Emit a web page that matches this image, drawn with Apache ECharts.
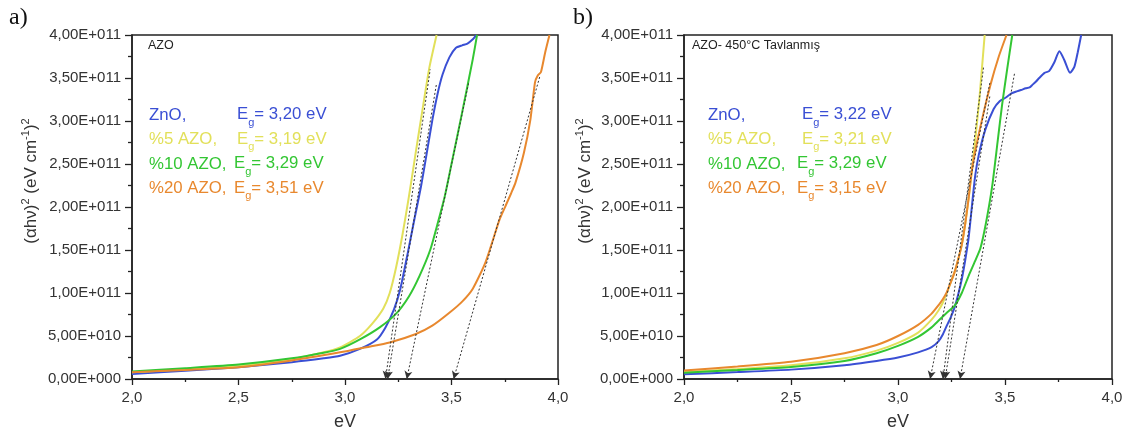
<!DOCTYPE html>
<html>
<head>
<meta charset="utf-8">
<script src="https://cdn.jsdelivr.net/npm/echarts@6/dist/echarts.min.js"></script>
<style>
html,body{margin:0;padding:0;background:#fff;}
#c{width:1130px;height:436px;}
</style>
</head>
<body>
<div id="c"></div>
<script>
// ---------- DATA ----------
const seriesNames = ['ZnO,', '%5 AZO,', '%10 AZO,', '%20 AZO,'];
const colors = ['#3a4fd4', '#e2e05a', '#33c633', '#e8882e'];

// Panel a) AZO  [eV, (alpha h nu)^2]
const aZnO = [[2.0,0.59e10],[2.25,0.95e10],[2.5,1.37e10],[2.75,1.95e10],[2.9,2.4e10],[2.977,2.7e10],[3.07,3.5e10],[3.15,4.6e10],[3.19,6.0e10],[3.23,8.1e10],[3.26,1.05e11],[3.295,1.47e11],[3.326,1.86e11],[3.357,2.24e11],[3.384,2.63e11],[3.41,3.01e11],[3.435,3.32e11],[3.458,3.54e11],[3.49,3.74e11],[3.52,3.85e11],[3.55,3.88e11],[3.575,3.9e11],[3.6,3.95e11],[3.618,4.0e11]];
const aAZO5 = [[2.0,0.78e10],[2.25,1.15e10],[2.5,1.56e10],[2.75,2.3e10],[2.9,3.1e10],[2.977,3.67e10],[3.07,5.0e10],[3.13,6.5e10],[3.18,8.2e10],[3.21,1.0e11],[3.24,1.3e11],[3.27,1.68e11],[3.30,2.12e11],[3.33,2.6e11],[3.365,3.15e11],[3.396,3.62e11],[3.43,4.0e11]];
const aAZO10 = [[2.0,0.86e10],[2.25,1.25e10],[2.5,1.68e10],[2.75,2.4e10],[2.9,3.05e10],[2.977,3.5e10],[3.07,4.6e10],[3.163,6.0e10],[3.24,7.6e10],[3.30,9.6e10],[3.35,1.2e11],[3.40,1.5e11],[3.434,1.8e11],[3.468,2.12e11],[3.50,2.5e11],[3.55,3.1e11],[3.60,3.72e11],[3.62,4.0e11]];
const aAZO20 = [[2.0,0.78e10],[2.25,1.05e10],[2.5,1.37e10],[2.75,2.15e10],[2.977,3.1e10],[3.1,3.7e10],[3.21,4.25e10],[3.33,5.2e10],[3.41,6.2e10],[3.49,7.7e10],[3.55,9.0e10],[3.60,1.05e11],[3.66,1.36e11],[3.725,1.85e11],[3.755,2.02e11],[3.78,2.16e11],[3.80,2.28e11],[3.84,2.63e11],[3.87,3.01e11],[3.892,3.45e11],[3.905,3.53e11],[3.92,3.57e11],[3.94,3.8e11],[3.96,4.0e11]];
const egA = [3.20, 3.19, 3.29, 3.51];
// tangent line top ends [eV, value]
const tanA = [[3.43,3.44e11],[3.40,3.6e11],[3.58,3.44e11],[3.915,3.52e11]];

// Panel b) AZO- 450°C Tavlanmış
const bZnO = [[2.0,0.54e10],[2.25,0.8e10],[2.5,1.09e10],[2.75,1.6e10],[2.9,2.1e10],[3.0,2.5e10],[3.094,3.1e10],[3.157,3.7e10],[3.19,4.4e10],[3.21,5.2e10],[3.228,6.2e10],[3.247,7.2e10],[3.264,8.3e10],[3.281,9.8e10],[3.298,1.16e11],[3.314,1.38e11],[3.33,1.64e11],[3.345,2.0e11],[3.36,2.35e11],[3.377,2.6e11],[3.408,2.9e11],[3.447,3.14e11],[3.475,3.23e11],[3.502,3.27e11],[3.53,3.32e11],[3.55,3.34e11],[3.575,3.36e11],[3.597,3.38e11],[3.615,3.39e11],[3.628,3.42e11],[3.645,3.46e11],[3.66,3.5e11],[3.685,3.56e11],[3.706,3.58e11],[3.73,3.68e11],[3.754,3.81e11],[3.777,3.71e11],[3.804,3.56e11],[3.824,3.63e11],[3.84,3.8e11],[3.856,4.0e11]];
const bAZO5 = [[2.0,0.81e10],[2.25,1.15e10],[2.5,1.59e10],[2.75,2.4e10],[2.9,3.3e10],[3.0,4.2e10],[3.094,5.4e10],[3.157,6.9e10],[3.19,8.0e10],[3.21,8.9e10],[3.228,1.0e11],[3.246,1.12e11],[3.264,1.24e11],[3.28,1.38e11],[3.298,1.56e11],[3.315,1.82e11],[3.33,2.1e11],[3.353,2.6e11],[3.38,3.25e11],[3.405,4.0e11]];
const bAZO10 = [[2.0,0.74e10],[2.25,1.05e10],[2.5,1.4e10],[2.75,2.1e10],[2.9,3.0e10],[3.0,3.85e10],[3.094,4.9e10],[3.157,6.0e10],[3.19,6.8e10],[3.228,7.7e10],[3.264,8.5e10],[3.298,1.0e11],[3.33,1.2e11],[3.36,1.37e11],[3.385,1.52e11],[3.41,1.8e11],[3.44,2.24e11],[3.465,2.75e11],[3.487,3.2e11],[3.51,3.6e11],[3.534,4.0e11]];
const bAZO20 = [[2.0,1.0e10],[2.25,1.45e10],[2.5,2.0e10],[2.75,3.0e10],[2.9,3.95e10],[3.0,5.0e10],[3.094,6.3e10],[3.157,7.6e10],[3.19,8.6e10],[3.21,9.3e10],[3.228,1.01e11],[3.246,1.12e11],[3.264,1.24e11],[3.28,1.38e11],[3.298,1.56e11],[3.315,1.82e11],[3.33,2.1e11],[3.345,2.42e11],[3.365,2.7e11],[3.392,3.01e11],[3.432,3.42e11],[3.471,3.75e11],[3.507,4.0e11]];
const egB = [3.22, 3.21, 3.29, 3.15];
const tanB = [[3.43,3.3e11],[3.40,3.63e11],[3.545,3.56e11],[3.43,3.45e11]];

const panelTitles = ['AZO', 'AZO- 450°C Tavlanmış'];
const panelLetters = ['a)', 'b)'];
const xTicks = {min: 2.0, max: 4.0, step: 0.5};
const yTicks = {min: 0, max: 4e11, step: 5e10};

// ---------- CHART ----------
const FONT = '"Liberation Sans", Arial, sans-serif';
const AXC = '#222';
function sci(v){
  if (v === 0) return '0,00E+000';
  const e = Math.floor(Math.log10(Math.abs(v)) + 1e-9);
  const m = v / Math.pow(10, e);
  return m.toFixed(2).replace('.', ',') + 'E+' + String(e).padStart(3, '0');
}
function dec(v){ return v.toFixed(1).replace('.', ','); }

const grids = [
  {left: 132, top: 35, width: 426, height: 346},
  {left: 684, top: 35, width: 428, height: 346}
];

function xAxisDef(i){
  return {
    type: 'value', gridIndex: i, min: xTicks.min, max: xTicks.max, interval: xTicks.step,
    axisLine: {show: true, onZero: false, lineStyle: {color: AXC, width: 1.5}},
    axisTick: {show: true, inside: false, length: 6, lineStyle: {color: AXC, width: 1.3}},
    minorTick: {show: true, splitNumber: 2, length: 3, lineStyle: {color: AXC, width: 1.3}},
    splitLine: {show: false},
    axisLabel: {formatter: dec, fontSize: 15, color: '#333', fontFamily: FONT, margin: 11},
    name: 'eV', nameLocation: 'middle', nameGap: 34,
    nameTextStyle: {fontSize: 18, color: '#333', fontFamily: FONT}
  };
}
function yAxisDef(i){
  return {
    type: 'value', gridIndex: i, min: yTicks.min, max: yTicks.max, interval: yTicks.step,
    axisLine: {show: true, onZero: false, lineStyle: {color: AXC, width: 1.5}},
    axisTick: {show: true, inside: false, length: 7, lineStyle: {color: AXC, width: 1.3}},
    minorTick: {show: true, splitNumber: 2, length: 4, lineStyle: {color: AXC, width: 1.3}},
    splitLine: {show: false},
    axisLabel: {formatter: sci, fontSize: 15, color: '#333', fontFamily: FONT, margin: 11}
  };
}

function lineSeries(name, data, color, gi, eg, tan){
  return {
    name: name, type: 'line', xAxisIndex: gi, yAxisIndex: gi, data: data,
    showSymbol: false, smooth: 0.2, clip: true,
    lineStyle: {color: color, width: 2}, itemStyle: {color: color},
    markLine: {
      silent: true, animation: false,
      symbol: ['arrow', 'none'], symbolSize: [6, 8],
      label: {show: false},
      lineStyle: {color: '#333', width: 1, type: [2, 2]},
      data: [[{coord: [eg, 0]}, {coord: tan}]]
    }
  };
}

const setsA = [aZnO, aAZO5, aAZO10, aAZO20];
const setsB = [bZnO, bAZO5, bAZO10, bAZO20];
const series = [];
for (let k = 0; k < 4; k++) series.push(lineSeries(seriesNames[k] + 'a', setsA[k], colors[k], 0, egA[k], tanA[k]));
for (let k = 0; k < 4; k++) series.push(lineSeries(seriesNames[k] + 'b', setsB[k], colors[k], 1, egB[k], tanB[k]));

// text graphics
const graphics = [];
const legendNameX = [149, 708];
const legendEgX = [[237, 237, 234, 234], [802, 802, 797, 797]];
const rowY = [115, 139.5, 164, 188.5];
const yNameX = [30, 584];
const egs = [egA, egB];
const yName = '{n|(αhν)}{s|2}{n| (eV cm}{s|-1}{n|)}{s|2}';
const LF = 16.8;
for (let p = 0; p < 2; p++) {
  graphics.push({type: 'text', x: [9, 573][p], y: 18, style: {text: panelLetters[p], font: '24px "Liberation Serif", "Times New Roman", serif', fill: '#111', verticalAlign: 'middle', align: 'left'}});
  graphics.push({type: 'text', x: [148, 692][p], y: 46, style: {text: panelTitles[p], font: '12.5px ' + FONT, fill: '#222', verticalAlign: 'middle', align: 'left'}});
  graphics.push({type: 'text', x: yNameX[p], y: 181, rotation: Math.PI / 2, style: {
    text: yName, align: 'center', verticalAlign: 'middle', fill: '#333',
    rich: {
      n: {fontSize: 17, fontFamily: FONT, fill: '#333', verticalAlign: 'bottom', lineHeight: 20},
      s: {fontSize: 11, fontFamily: FONT, fill: '#333', verticalAlign: 'top', lineHeight: 20}
    }}});
  for (let k = 0; k < 4; k++) {
    graphics.push({type: 'text', x: legendNameX[p], y: rowY[k], style: {text: seriesNames[k], font: LF + 'px ' + FONT, fill: colors[k], verticalAlign: 'middle', align: 'left'}});
    graphics.push({type: 'text', x: legendEgX[p][k], y: rowY[k] + 2, style: {
      text: '{n|E}{g|g}{n|= ' + egs[p][k].toFixed(2).replace('.', ',') + ' eV}',
      verticalAlign: 'middle', align: 'left', fill: colors[k],
      rich: {
        n: {fontSize: LF, fontFamily: FONT, fill: colors[k], verticalAlign: 'top', lineHeight: 22},
        g: {fontSize: 11, fontFamily: FONT, fill: colors[k], verticalAlign: 'bottom', lineHeight: 22}
      }}});
  }
}

const chart = echarts.init(document.getElementById('c'), null, {renderer: 'canvas'});
chart.setOption({
  backgroundColor: '#ffffff',
  animation: false,
  grid: grids.map(g => Object.assign({show: true, borderColor: AXC, borderWidth: 1.5, backgroundColor: 'transparent'}, g)),
  xAxis: [xAxisDef(0), xAxisDef(1)],
  yAxis: [yAxisDef(0), yAxisDef(1)],
  series: series,
  graphic: graphics
});
</script>
</body>
</html>
